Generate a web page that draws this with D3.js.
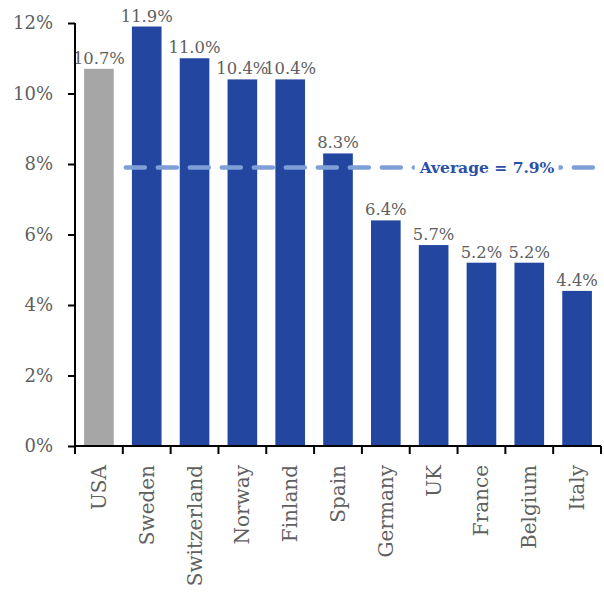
<!DOCTYPE html>
<html>
<head>
<meta charset="utf-8">
<script src="https://cdn.jsdelivr.net/npm/d3@7/dist/d3.min.js"></script>
<style>
  html, body { margin: 0; padding: 0; background: #fff; }
  svg { display: block; }
  text { font-family: "DejaVu Serif", "Liberation Serif", serif; }
</style>
</head>
<body>
<svg id="chart" width="604" height="601"></svg>
<script>
// Country shares, in percent
const countries = ["USA", "Sweden", "Switzerland", "Norway", "Finland", "Spain", "Germany", "UK", "France", "Belgium", "Italy"];
const values = [10.7, 11.9, 11.0, 10.4, 10.4, 8.3, 6.4, 5.7, 5.2, 5.2, 4.4];
const valueLabels = ["10.7%", "11.9%", "11.0%", "10.4%", "10.4%", "8.3%", "6.4%", "5.7%", "5.2%", "5.2%", "4.4%"];
const yTicks = [0, 2, 4, 6, 8, 10, 12];
const averageValue = 7.9;
const averageLabel = "Average = 7.9%";

const svg = d3.select("#chart");
const margin = { left: 75, right: 3, top: 23, bottom: 155 };
const width = 604, height = 601;

const x = d3.scaleBand()
  .domain(countries)
  .range([margin.left, width - margin.right])
  .paddingInner(0.38)
  .paddingOuter(0.19);

const y = d3.scaleLinear()
  .domain([0, 12])
  .range([height - margin.bottom, margin.top]);

// Bars
svg.append("g")
  .selectAll("rect")
  .data(countries)
  .join("rect")
  .attr("x", d => x(d))
  .attr("width", x.bandwidth())
  .attr("y", (d, i) => y(values[i]))
  .attr("height", (d, i) => y(0) - y(values[i]))
  .attr("fill", (d, i) => i === 0 ? "#a6a6a6" : "#2347a0");

// Value labels above bars
svg.append("g")
  .selectAll("text")
  .data(countries)
  .join("text")
  .attr("x", d => x(d) + x.bandwidth() / 2)
  .attr("y", (d, i) => y(values[i]) - 5)
  .attr("text-anchor", "middle")
  .attr("font-size", 16.5)
  .attr("textLength", (d, i) => valueLabels[i].length * 10.4)
  .attr("lengthAdjust", "spacingAndGlyphs")
  .attr("fill", "#606060")
  .text((d, i) => valueLabels[i]);

// Average line across the blue bars
const avgY = y(averageValue);
const avgStart = x(countries[0]) + x.step() - x.step() * x.paddingInner() / 2;
svg.append("line")
  .attr("x1", avgStart + 3)
  .attr("x2", width)
  .attr("y1", avgY)
  .attr("y2", avgY)
  .attr("stroke", "#7f9fd9")
  .attr("stroke-width", 4.5)
  .attr("stroke-linecap", "round")
  .attr("stroke-dasharray", "19,13");

const avgGroup = svg.append("g");
const avgBg = avgGroup.append("rect").attr("fill", "#fff");
const avgText = avgGroup.append("text")
  .attr("x", 487)
  .attr("y", avgY)
  .attr("dy", "0.35em")
  .attr("text-anchor", "middle")
  .attr("font-size", 15.5)
  .attr("font-weight", "bold")
  .attr("fill", "#2a4fa8")
  .text(averageLabel);
const bb = avgText.node().getBBox();
avgBg
  .attr("x", bb.x - 4)
  .attr("y", bb.y)
  .attr("width", bb.width + 8)
  .attr("height", bb.height);

// Y axis
const yAxis = svg.append("g")
  .attr("transform", `translate(${margin.left},0)`)
  .call(d3.axisLeft(y).tickValues(yTicks).tickFormat(d => d + "%").tickSize(7).tickPadding(15));
yAxis.select(".domain").attr("stroke", "#000").attr("stroke-width", 2).attr("d", `M0,${y(12)}V${y(0)}`);
yAxis.selectAll(".tick line").attr("stroke", "#000").attr("stroke-width", 2);
yAxis.selectAll(".tick text")
  .attr("font-size", 18)
  .attr("fill", "#606060")
  .attr("font-family", "DejaVu Serif, serif");

// X axis with ticks at category boundaries
const xAxis = svg.append("g")
  .attr("transform", `translate(0,${y(0)})`);
xAxis.append("line")
  .attr("x1", margin.left - 1)
  .attr("x2", width - margin.right)
  .attr("stroke", "#000")
  .attr("stroke-width", 2);
const boundaries = countries.map(d => x(d) - x.step() * x.paddingInner() / 2)
  .concat([x(countries[countries.length - 1]) + x.bandwidth() + x.step() * x.paddingInner() / 2]);
xAxis.selectAll("line.bt")
  .data(boundaries)
  .join("line")
  .attr("class", "bt")
  .attr("x1", d => d)
  .attr("x2", d => d)
  .attr("y1", 0)
  .attr("y2", 8)
  .attr("stroke", "#000")
  .attr("stroke-width", 2);
xAxis.selectAll("text")
  .data(countries)
  .join("text")
  .attr("transform", d => `translate(${x(d) + x.bandwidth() / 2},19) rotate(-90)`)
  .attr("text-anchor", "end")
  .attr("dy", "0.35em")
  .attr("font-size", 20)
  .attr("fill", "#606060")
  .text(d => d);
</script>
</body>
</html>
